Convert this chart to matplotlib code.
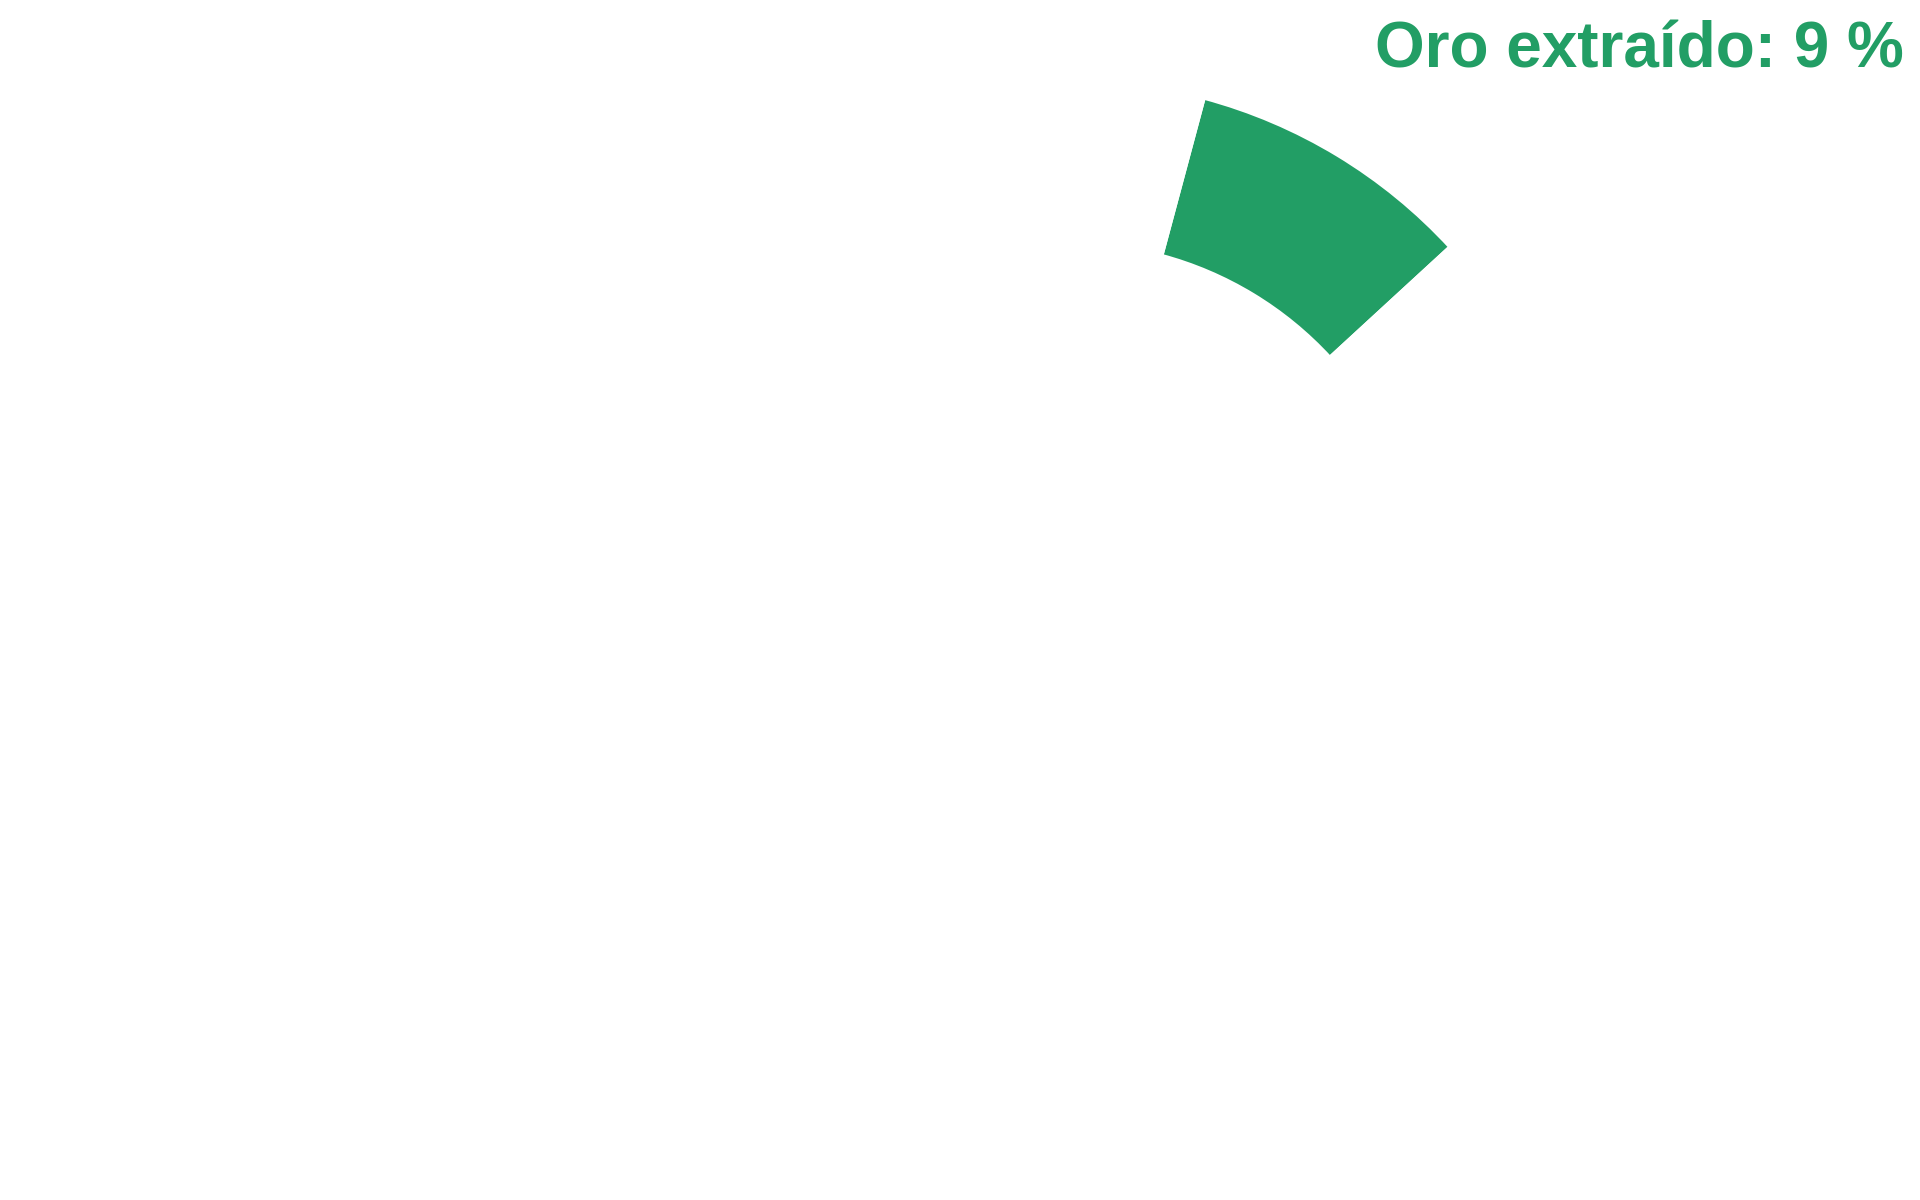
import matplotlib
matplotlib.use("Agg")
import matplotlib.pyplot as plt

# data
labels = ["Oro extraído", "Resto"]
shares = [9, 91]
colors = ["#229E65", "#FFFFFF"]
title = "Oro extraído: 9 %"

fig = plt.figure(figsize=(19.2, 12), dpi=100)
fig.patch.set_facecolor("white")

# square axes centred on the ring (px: centre 1070,597 ; radius 517)
ax = fig.add_axes([0.288, 0.0717, 0.5385, 0.8617])
ax.pie(shares, colors=colors, startangle=75, counterclock=False, radius=1.0,
       wedgeprops=dict(width=0.317, edgecolor="white", linewidth=3))
ax.set_xlim(-1, 1); ax.set_ylim(-1, 1)
ax.set_aspect("equal")
ax.axis("off")

fig.text(0.9915, 0.9435, title, ha="right", va="baseline", color=colors[0],
         fontsize=46, fontweight="bold", family=["Liberation Sans", "DejaVu Sans"])

fig.savefig("out.png", dpi=100, facecolor="white")
